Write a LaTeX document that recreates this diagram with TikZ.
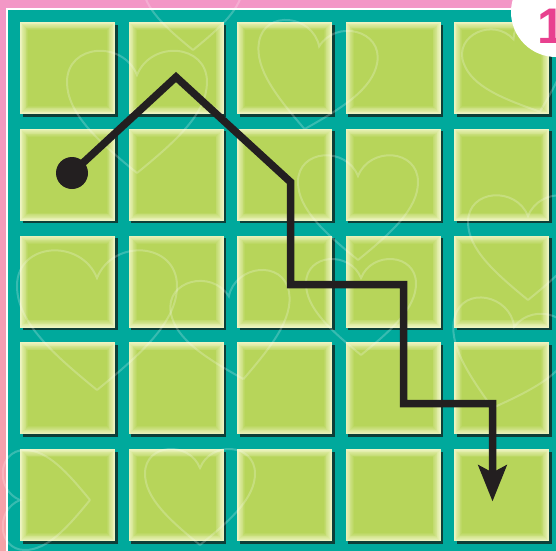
\documentclass[tikz,border=0pt]{standalone}
\usepackage{fontspec}
\usepackage{tikz}
\usetikzlibrary{arrows.meta,calc,positioning}
\newfontfamily\badgefont{Liberation Sans}
\definecolor{bgpink}{HTML}{F397C6}
\definecolor{bgsalmon}{HTML}{F5A2A6}
\definecolor{boardteal}{HTML}{00A99C}
\definecolor{tilegreen}{HTML}{B7D55A}
\definecolor{tilelight}{HTML}{EEF4C2}
\definecolor{tileshadow}{HTML}{0E3F38}
\definecolor{pathblack}{HTML}{231F20}
\definecolor{badgepink}{HTML}{E8408F}

\begin{document}
\begin{tikzpicture}[x=1pt, y=-1pt,
  route/.style={draw=pathblack, line width=7.5pt, line join=miter},
  startdot/.style={circle, fill=pathblack, minimum size=32pt, inner sep=0pt},
  badgedisc/.style={circle, fill=white, minimum size=90pt, inner sep=0pt},
  heartline/.style={draw=white, opacity=0.22, line width=2pt},
  heartpic/.pic={\path[heartline] (0,1) .. controls (-0.55,0.55) and (-1,0.15) .. (-1,-0.3)
      .. controls (-1,-0.85) and (-0.2,-0.9) .. (0,-0.4)
      .. controls (0.2,-0.9) and (1,-0.85) .. (1,-0.3)
      .. controls (1,0.15) and (0.55,0.55) .. (0,1);}
]
\useasboundingbox (0,0) rectangle (556,550);
\clip (0,0) rectangle (556,550);

% background and board
\shade[top color=bgpink, bottom color=bgsalmon] (0,0) rectangle (556,550);
\fill[white] (5.5,7.5) rectangle (600,600);
\fill[boardteal] (8,10) rectangle (600,600);

% tiles
\foreach \col in {0,...,4}
  \foreach \row in {0,...,4} {
    \coordinate (t\col\row) at ({20+108.5*\col},{22+106.8*\row});
    \fill[tileshadow] ($(t\col\row)+(2.5,2.5)$) rectangle ++(95,92);
    \foreach \k in {0,...,10} {
      \pgfmathtruncatemacro\pct{10*\k}
      \fill[tilegreen!\pct!tilelight] ($(t\col\row)+(0.8*\k,0.8*\k)$)
        rectangle ($(t\col\row)+(95-0.8*\k,92-0.8*\k)$);
    }
  }

% hearts
\foreach \hx/\hy/\hr/\hs in {97/310/0/80, 137/103/0/70, 193/0/0/50, 233/320/10/60,
    315/70/-10/60, 358/200/0/60, 521/60/20/55, 528/240/0/60, 361/300/0/55,
    508/350/-15/60, 40/500/90/50, 200/490/0/55}
  \pic[rotate=\hr, scale=\hs] at (\hx,\hy) {heartpic};

% route
\node[startdot] (start) at (72,173) {};
\coordinate (peak) at (176,77);
\coordinate (bend) at (290.5,182);
\coordinate (stepa) at (290.5,284.5);
\coordinate (stepb) at (403.5,284.5);
\coordinate (stepc) at (403.5,403.5);
\coordinate (stepd) at (492.5,403.5);
\coordinate (goal) at (492.5,501.5);
\draw[route, -{Stealth[length=36pt, width=28pt, inset=7pt]}]
  (start.center) -- (peak) -- (bend) -- (stepa) -- (stepb) -- (stepc) -- (stepd) -- (goal);

% badge
\node[badgedisc] (badge) at (556,12) {};
\node[anchor=base west, text=badgepink, font=\badgefont\bfseries\fontsize{50}{50}\selectfont] (badgenum) at (534,43) {1};
\end{tikzpicture}
\end{document}
